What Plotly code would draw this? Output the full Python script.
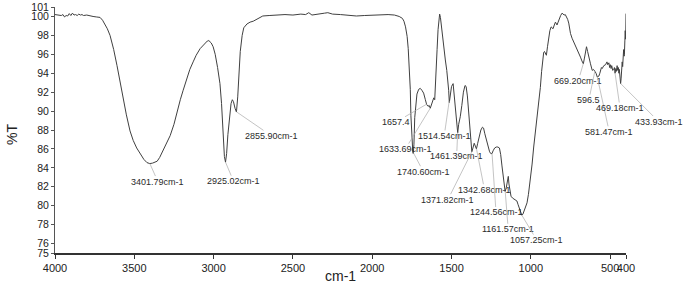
import numpy as np
import plotly.graph_objects as go

# ---- data ----
wavenumber = [
    4000, 3980, 3960, 3950, 3940, 3930, 3920, 3910, 3900, 3890, 3880, 3870, 3860, 3850,
    3840, 3830, 3820, 3800, 3780, 3760, 3740, 3716, 3700, 3685, 3670, 3653, 3630, 3609,
    3590, 3571, 3550, 3527, 3507, 3485, 3464, 3440, 3420, 3402, 3385, 3370, 3356, 3340,
    3318, 3296, 3274, 3250, 3230, 3210, 3192, 3170, 3150, 3129, 3110, 3085, 3060, 3040,
    3030, 3015, 3003, 2990, 2975, 2960, 2950, 2940, 2932, 2925, 2918, 2910, 2900, 2890,
    2882, 2875, 2865, 2856, 2848, 2840, 2832, 2820, 2810, 2790, 2770, 2750, 2720, 2690,
    2650, 2600, 2550, 2500, 2450, 2420, 2400, 2380, 2350, 2300, 2280, 2250, 2200, 2150,
    2100, 2050, 2000, 1950, 1900, 1860, 1830, 1810, 1800, 1790, 1780, 1773, 1766, 1760,
    1756, 1750, 1744, 1741, 1737, 1732, 1725, 1718, 1707, 1697, 1687, 1676, 1665, 1657,
    1648, 1641, 1634, 1625, 1619, 1612, 1606, 1600, 1595, 1591, 1585, 1580, 1575, 1570,
    1565, 1560, 1550, 1539, 1530, 1524, 1518, 1514, 1508, 1500, 1490, 1482, 1475, 1468,
    1461, 1455, 1445, 1435, 1425, 1415, 1408, 1400, 1392, 1385, 1378, 1372, 1365, 1357,
    1350, 1343, 1335, 1325, 1315, 1305, 1298, 1290, 1280, 1270, 1260, 1252, 1245, 1238,
    1228, 1218, 1208, 1198, 1190, 1182, 1174, 1168, 1162, 1155, 1148, 1142, 1138, 1132,
    1125, 1115, 1105, 1095, 1088, 1080, 1072, 1065, 1057, 1050, 1040, 1030, 1024, 1015,
    1003, 992, 982, 971, 960, 950, 940, 932, 925, 919, 914, 908, 902, 895, 887, 880,
    872, 866, 860, 852, 845, 838, 835, 828, 820, 812, 803, 796, 790, 783, 776, 768,
    761, 755, 750, 740, 729, 718, 708, 698, 687, 678, 669, 662, 655, 649, 642, 634,
    624, 613, 605, 596, 589, 581, 571, 565, 560, 555, 550, 540, 529, 520, 515, 508,
    503, 498, 494, 490, 484, 477, 473, 469, 464, 460, 456, 452, 448, 445, 442, 439,
    434, 431, 428, 424, 421, 418, 415, 412, 410, 407, 405, 402, 400,
]
transmittance = [
    100.2, 100.15, 100.1, 100.2, 99.95, 100.1, 100.05, 100.3, 100.1, 100.35, 100.15, 100.2, 100.1, 100.25,
    100.15, 100.2, 100.1, 100.15, 100.05, 100.0, 99.95, 99.9, 99.6, 99.2, 98.7, 98.0, 96.5, 94.8,
    93.0, 91.3, 89.6, 87.9, 86.9, 86.1, 85.5, 84.9, 84.55, 84.45, 84.5, 84.6, 84.7, 85.1,
    85.9, 86.6, 87.4, 88.6, 90.0, 91.2, 92.2, 93.4, 94.4, 95.2, 95.9, 96.6, 97.1, 97.4,
    97.45, 97.2, 96.8, 96.0, 94.6, 92.9, 90.8, 87.5, 85.2, 84.6, 85.5, 87.5, 89.6, 90.8,
    91.2, 91.0, 90.3, 89.9, 91.5, 94.0, 96.3, 98.0, 98.8, 99.2, 99.4, 99.5, 99.8, 100.05,
    100.1, 100.15, 100.2, 100.15, 100.25, 100.2, 100.4, 100.15, 100.25, 100.35, 100.4, 100.25, 100.2, 100.1,
    100.05, 100.1, 100.15, 100.2, 100.2, 100.15, 100.0, 99.8, 99.5, 98.9, 97.9, 96.6, 94.8, 92.3,
    89.5, 86.8, 85.6, 85.5, 86.5, 89.3, 91.0, 91.8, 92.3, 92.4, 92.2, 91.9, 91.2, 90.7,
    90.5, 90.6, 90.3, 90.8, 91.2, 91.4, 91.2, 92.9, 94.6, 96.5, 98.6, 99.7, 100.25, 99.9,
    99.1, 98.2, 96.8, 95.4, 94.3, 93.5, 92.2, 90.9, 91.6, 92.6, 92.9, 91.5, 89.6, 88.4,
    87.7, 88.6, 89.4, 90.6, 92.0, 92.7, 92.6, 91.6, 89.8, 87.9, 86.4, 85.7, 86.1, 86.6,
    86.3, 86.0, 86.6, 87.4, 88.0, 88.3, 88.2, 87.6, 86.9, 86.2, 85.7, 85.5, 85.5, 85.8,
    86.1, 86.2, 86.2, 86.1, 85.4, 84.2, 82.9, 81.9, 81.5, 81.9, 82.5, 83.1, 82.3, 81.4,
    81.0, 80.8, 80.7, 80.6, 80.5, 80.1, 79.7, 79.3, 79.0, 79.1, 79.5, 80.0, 80.3, 81.2,
    82.7, 84.4, 86.2, 87.7, 89.6, 91.2, 92.5, 94.2, 95.6, 96.2, 96.3, 96.1, 95.9, 96.8, 97.9, 98.5,
    98.9, 98.8, 98.7, 99.1, 99.4, 99.2, 99.1, 99.4, 99.8, 100.1, 100.35, 100.25, 100.15, 100.2, 100.0, 99.7,
    99.3, 98.7, 98.2, 97.7, 97.3, 96.9, 96.6, 96.1, 95.7, 95.3, 95.0, 95.6, 96.3, 96.8, 96.3, 95.6,
    95.0, 94.3, 94.4, 94.2, 94.0, 93.6, 93.7, 94.0, 94.3, 94.6, 94.5, 94.8, 94.9, 95.2, 94.9, 95.1,
    94.6, 94.9, 94.5, 94.8, 94.3, 94.4, 94.6, 94.0, 94.5, 94.2, 94.8, 94.3, 94.6, 94.0, 94.4, 93.8,
    92.9, 93.4, 94.5, 95.2, 94.7, 95.6, 96.5, 95.8, 96.0, 97.5, 98.5, 97.6, 100.3,
]

peak_labels = [
    "3401.79cm-1", "2925.02cm-1", "2855.90cm-1", "1657.4", "1633.69cm-1", "1740.60cm-1",
    "1514.54cm-1", "1461.39cm-1", "1371.82cm-1", "1342.68cm-1", "1244.56cm-1",
    "1161.57cm-1", "1057.25cm-1", "669.20cm-1", "596.5", "581.47cm-1", "469.18cm-1",
    "433.93cm-1",
]
peak_positions = [
    3401.79, 2925.02, 2855.90, 1657.4, 1633.69, 1740.60, 1514.54, 1461.39, 1371.82,
    1342.68, 1244.56, 1161.57, 1057.25, 669.20, 596.5, 581.47, 469.18, 433.93,
]

x_tickvals = [4000, 3500, 3000, 2500, 2000, 1500, 1000, 500, 400]
y_tickvals = [75, 76, 78, 80, 82, 84, 86, 88, 90, 92, 94, 96, 98, 100, 101]

# ---- label offsets (pixels, style only) ----
label_offsets = [
    (8, 18), (8, 19), (35, 24), (-31, 18), (-25, 41), (10, 19),
    (-5, 35), (-1, 24), (-24, 48), (8, 41), (4, 59),
    (3, 38), (15, 25), (-5, 17), (-6, 29), (12, 55), (5, 35), (38, 38),
]

FONT = "Liberation Sans, Arial, sans-serif"

wn_arr = np.array(wavenumber, dtype=float)
t_arr = np.array(transmittance, dtype=float)

fig = go.Figure()
fig.add_trace(go.Scatter(
    x=wavenumber, y=transmittance, mode="lines",
    line=dict(color="#404040", width=1), hoverinfo="skip", showlegend=False,
))

annotations = []
for lab, pos, (ax, ay) in zip(peak_labels, peak_positions, label_offsets):
    yv = float(np.interp(pos, wn_arr[::-1], t_arr[::-1]))
    annotations.append(dict(
        x=pos, y=yv, xref="x", yref="y", text=lab, showarrow=True,
        arrowhead=0, arrowwidth=0.7, arrowcolor="#aaaaaa", ax=ax, ay=ay,
        font=dict(family=FONT, size=9, color="#2a2a2a"),
        standoff=0, startstandoff=0, borderpad=0,
    ))

annotations.append(dict(
    text="cm-1", xref="paper", yref="paper", x=0.5, y=0, yanchor="middle",
    yshift=-23, showarrow=False,
    font=dict(family=FONT, size=14, color="#222"),
))
annotations.append(dict(
    text="%T", xref="paper", yref="paper", x=0, y=0.48, xanchor="center",
    xshift=-43, textangle=-90, showarrow=False,
    font=dict(family=FONT, size=14, color="#222"),
))

fig.update_layout(
    width=685, height=287,
    margin=dict(l=55, r=59, t=7, b=34, autoexpand=False),
    paper_bgcolor="white", plot_bgcolor="white",
    annotations=annotations,
    xaxis=dict(
        range=[4000, 400], tickvals=x_tickvals, ticktext=[str(v) for v in x_tickvals],
        tickangle=0, showgrid=False, zeroline=False, automargin=False,
        showline=True, linecolor="#333", linewidth=1.5,
        ticks="outside", ticklen=4, tickcolor="#333",
        tickfont=dict(family=FONT, size=11, color="#222"),
    ),
    yaxis=dict(
        range=[75, 101], tickvals=y_tickvals, ticktext=[str(v) for v in y_tickvals],
        showgrid=False, zeroline=False, automargin=False,
        showline=True, linecolor="#555", linewidth=1,
        ticks="outside", ticklen=3, tickcolor="#555",
        tickfont=dict(family=FONT, size=10.5, color="#222"),
    ),
)

fig.write_html(
    "out.html",
    config={"displayModeBar": False, "staticPlot": True},
    post_script="document.body.style.margin='0';",
)
